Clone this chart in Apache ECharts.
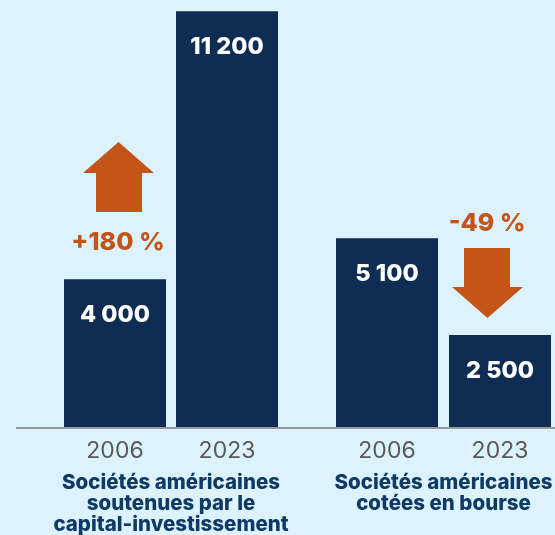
<!DOCTYPE html>
<html><head><meta charset="utf-8">
<script src="https://cdn.jsdelivr.net/npm/echarts@6/dist/echarts.min.js"></script>
<style>html,body{margin:0;padding:0;background:#dcf2fd;}#c{width:555px;height:535px;}</style>
</head><body><div id="c"></div>
<script>
const years = ['2006', '2023'];
const groupNames = ['Sociétés américaines\nsoutenues par le\ncapital-investissement', 'Sociétés américaines\ncotées en bourse'];
const privateEquityValues = [4000, 11200];
const publicValues = [5100, 2500];
const changeLabels = ['+180 %', '-49 %'];

const FONT = 'Inter, sans-serif';
const NAVY = '#0f2c52';
const ORANGE = '#c55418';
const fmt = v => String(v).replace(/\B(?=(\d{3})+(?!\d))/g, ' ');

function xAx(i) {
  return {
    type: 'category', gridIndex: i, data: years,
    axisLine: {show: false}, axisTick: {show: false},
    axisLabel: {color: '#595959', fontSize: 23, fontFamily: FONT, margin: 12},
    name: groupNames[i], nameLocation: 'middle', nameGap: 44,
    nameTextStyle: {color: '#0f3a66', fontSize: 20.5, fontWeight: 800, fontFamily: FONT, lineHeight: 21, verticalAlign: 'top'}
  };
}
function yAx(i) {
  return {type: 'value', gridIndex: i, min: 0, max: 11500, show: false, splitLine: {show: false}};
}
function ser(i, data) {
  return {
    type: 'bar', xAxisIndex: i, yAxisIndex: i, data: data, barWidth: 102,
    itemStyle: {color: NAVY}, silent: true, animation: false,
    label: {show: true, position: 'insideTop', distance: 24, color: '#fff', fontSize: 23.5, fontWeight: 800, fontFamily: FONT, formatter: p => fmt(p.value)}
  };
}
const chart = echarts.init(document.getElementById('c'));
chart.setOption({
  backgroundColor: '#dcf2fd',
  animation: false,
  grid: [
    {left: 59, top: 0, width: 224, bottom: 107, containLabel: false, outerBoundsMode: 'none'},
    {left: 330.5, top: 0, width: 226, bottom: 107, containLabel: false, outerBoundsMode: 'none'}
  ],
  xAxis: [xAx(0), xAx(1)],
  yAxis: [yAx(0), yAx(1)],
  series: [ser(0, privateEquityValues), ser(1, publicValues)],
  graphic: [
    {type: 'line', shape: {x1: 16, y1: 428, x2: 555, y2: 428}, style: {stroke: '#9a9a9a', lineWidth: 2}, z: 10},
    {type: 'polygon', shape: {points: [[118.5,142],[154,173],[142,173],[142,212],[96,212],[96,173],[83,173]]}, style: {fill: ORANGE}},
    {type: 'text', x: 118, y: 242, style: {text: changeLabels[0], fill: ORANGE, font: '800 25px ' + FONT, textAlign: 'center', textVerticalAlign: 'middle'}},
    {type: 'polygon', shape: {points: [[464,248],[510,248],[510,287],[523,287],[487.5,318],[452,287],[464,287]]}, style: {fill: ORANGE}},
    {type: 'text', x: 487, y: 223, style: {text: changeLabels[1], fill: ORANGE, font: '800 25px ' + FONT, textAlign: 'center', textVerticalAlign: 'middle'}}
  ]
});
</script></body></html>
